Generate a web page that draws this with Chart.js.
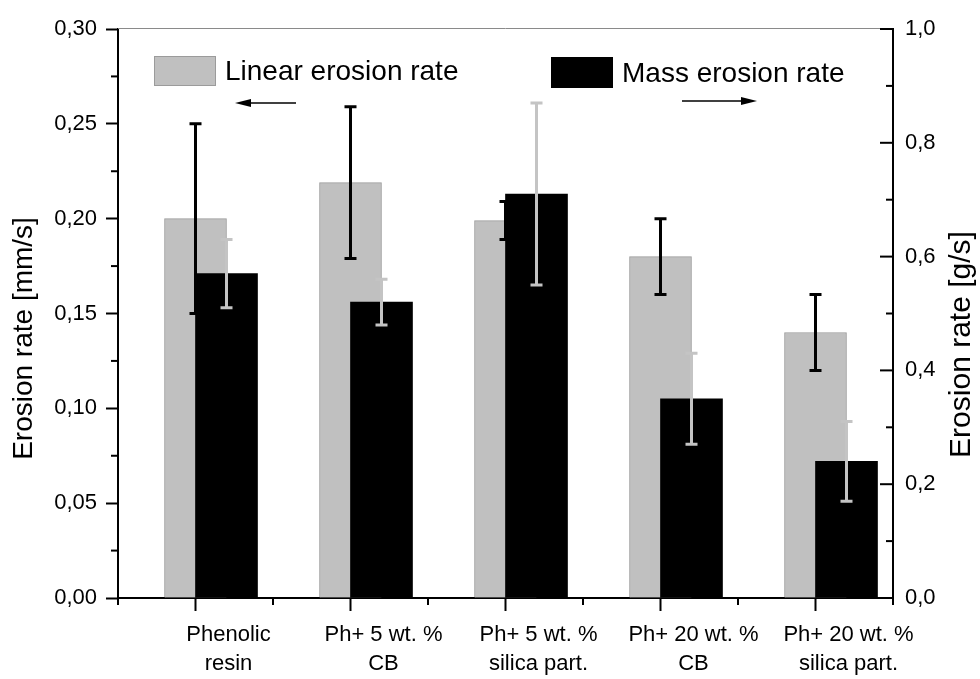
<!DOCTYPE html>
<html>
<head>
<meta charset="utf-8">
<script src="https://cdn.jsdelivr.net/npm/chart.js@4.4.1/dist/chart.umd.min.js"></script>
<style>
  html, body { margin: 0; padding: 0; background: #fff; }
  #wrap { width: 980px; height: 679px; }
</style>
</head>
<body>
<div id="wrap"><canvas id="myChart"></canvas></div>
<script>
const categories = [
    ['Phenolic', 'resin'],
    ['Ph+ 5 wt. %', 'CB'],
    ['Ph+ 5 wt. %', 'silica part.'],
    ['Ph+ 20 wt. %', 'CB'],
    ['Ph+ 20 wt. %', 'silica part.']
]
// linear erosion rate, mm/s (left axis)
const linearRate = [0.200, 0.219, 0.199, 0.180, 0.140]
const linearErr = [0.050, 0.040, 0.010, 0.020, 0.020]
// mass erosion rate, g/s (right axis)
const massRate = [0.57, 0.52, 0.71, 0.35, 0.24]
const massErr = [0.06, 0.04, 0.16, 0.08, 0.07]

const FONT = "'Liberation Sans', Arial, sans-serif"
const ctx = document.getElementById('myChart')

Chart.defaults.font.family = FONT
Chart.defaults.color = '#000'

function drawErrors(chart, dsIndex, values, errs, color) {
    const c = chart.ctx
    const meta = chart.getDatasetMeta(dsIndex)
    const yScale = chart.scales[meta.yAxisID]
    c.save()
    c.strokeStyle = color
    c.lineWidth = 3
    meta.data.forEach((bar, i) => {
        const top = yScale.getPixelForValue(values[i] + errs[i])
        const bot = yScale.getPixelForValue(values[i] - errs[i])
        c.beginPath()
        c.moveTo(bar.x, top)
        c.lineTo(bar.x, bot)
        c.moveTo(bar.x - 6, top)
        c.lineTo(bar.x + 6, top)
        c.moveTo(bar.x - 6, bot)
        c.lineTo(bar.x + 6, bot)
        c.stroke()
    })
    c.restore()
}

function line(c, x1, y1, x2, y2) {
    c.beginPath()
    c.moveTo(x1, y1)
    c.lineTo(x2, y2)
    c.stroke()
}

function arrow(c, x1, x2, y) {
    const dir = Math.sign(x2 - x1)
    c.lineWidth = 1.5
    line(c, x1, y, x2 - dir * 10, y)
    c.beginPath()
    c.moveTo(x2, y)
    c.lineTo(x2 - dir * 16, y - 4)
    c.lineTo(x2 - dir * 16, y + 4)
    c.closePath()
    c.fill()
}

const decorPlugin = {
    id: 'decor',
    afterDatasetsDraw(chart) {
        drawErrors(chart, 0, linearRate, linearErr, '#000')
        drawErrors(chart, 1, massRate, massErr, '#c4c4c4')
    },
    afterDraw(chart) {
        const c = chart.ctx
        const area = chart.chartArea
        const {x, y, y2} = chart.scales
        c.save()

        // thin frame line on top
        c.strokeStyle = '#8a8a8a'
        c.lineWidth = 1
        line(c, area.left, area.top - 0.5, area.right, area.top - 0.5)

        c.strokeStyle = '#000'
        c.lineWidth = 2
        // left minor ticks (outward)
        for (let k = 0; k < 6; k++) {
            const py = y.getPixelForValue(0.025 + k * 0.05)
            line(c, area.left, py, area.left - 7, py)
        }
        // right ticks (inward)
        for (let k = 0; k <= 10; k++) {
            const py = y2.getPixelForValue(k / 10)
            line(c, area.right, py, area.right - (k % 2 === 0 ? 13 : 7), py)
        }
        // x minor ticks between categories
        for (let k = 0; k <= categories.length; k++) {
            const px = x.getPixelForValue(k - 0.5)
            line(c, px, area.bottom, px, area.bottom + 7)
        }

        // axis titles
        c.fillStyle = '#000'
        c.textAlign = 'center'
        c.textBaseline = 'middle'
        const midY = (area.top + area.bottom) / 2
        c.save()
        c.font = '28px ' + FONT
        c.translate(24, midY + 25)
        c.rotate(-Math.PI / 2)
        c.fillText('Erosion rate [mm/s]', 0, 0)
        c.restore()
        c.save()
        c.font = '30px ' + FONT
        c.translate(area.right + 69, midY + 31)
        c.rotate(-Math.PI / 2)
        c.fillText('Erosion rate [g/s]', 0, 0)
        c.restore()

        // legend boxes
        const ds = chart.data.datasets
        c.font = '28px ' + FONT
        c.textAlign = 'left'
        c.fillStyle = ds[0].backgroundColor
        c.fillRect(area.left + 36, area.top + 27, 62, 30)
        c.strokeStyle = ds[0].borderColor
        c.lineWidth = 1
        c.strokeRect(area.left + 36.5, area.top + 27.5, 61, 29)
        c.fillStyle = '#000'
        c.fillText(ds[0].label, area.left + 107, area.top + 43)

        c.fillStyle = ds[1].backgroundColor
        c.fillRect(area.left + 433, area.top + 28, 62, 31)
        c.fillStyle = '#000'
        c.fillText(ds[1].label, area.left + 504, area.top + 45)

        // arrows pointing to the axes
        c.strokeStyle = '#000'
        arrow(c, area.left + 178, area.left + 117, area.top + 74)
        arrow(c, area.left + 564, area.left + 639, area.top + 72)
        c.restore()
    }
}

const chart = new Chart(ctx, {
    type: 'bar',
    data: {
        labels: categories,
        datasets: [{
            label: 'Linear erosion rate',
            data: linearRate,
            backgroundColor: '#c0c0c0',
            borderColor: '#9b9b9b',
            borderWidth: 1,
            barThickness: 62,
            grouped: false,
            order: 2,
            xAxisID: 'x',
            yAxisID: 'y'
        },
        {
            label: 'Mass erosion rate',
            data: massRate.map((v, i) => ({x: i, y: v})),
            backgroundColor: '#000000',
            borderWidth: 0,
            barThickness: 62,
            grouped: false,
            order: 1,
            xAxisID: 'x2',
            yAxisID: 'y2'
        }]
    },
    options: {
        responsive: true,
        maintainAspectRatio: false,
        animation: false,
        layout: {
            padding: {top: 29, left: 0, right: 0, bottom: 0}
        },
        plugins: {
            legend: {display: false},
            tooltip: {enabled: false}
        },
        scales: {
            x: {
                type: 'category',
                offset: true,
                grid: {
                    offset: false,
                    drawOnChartArea: false,
                    drawTicks: true,
                    tickLength: 13,
                    tickWidth: 2,
                    tickColor: '#000'
                },
                border: {display: true, color: '#000', width: 2},
                ticks: {
                    font: {size: 22, lineHeight: 1.3},
                    padding: 10,
                    labelOffset: 33,
                    maxRotation: 0,
                    autoSkip: false
                },
                afterFit: (scale) => { scale.height = 81 }
            },
            // hidden axis that places the mass bars half a bar to the right
            x2: {
                type: 'linear',
                display: false,
                offset: false,
                min: -0.7,
                max: 4.3
            },
            y: {
                position: 'left',
                min: 0,
                max: 0.30,
                grid: {
                    drawOnChartArea: false,
                    drawTicks: true,
                    tickLength: 12,
                    tickWidth: 2,
                    tickColor: '#000'
                },
                border: {display: true, color: '#000', width: 2},
                ticks: {
                    stepSize: 0.05,
                    font: {size: 22},
                    padding: 9,
                    callback: (v) => v.toFixed(2).replace('.', ',')
                },
                afterFit: (scale) => { scale.width = 118 }
            },
            y2: {
                position: 'right',
                min: 0,
                max: 1.0,
                grid: {
                    drawOnChartArea: false,
                    drawTicks: false
                },
                border: {display: true, color: '#000', width: 2},
                ticks: {
                    stepSize: 0.2,
                    font: {size: 22},
                    padding: 12,
                    callback: (v) => v.toFixed(1).replace('.', ',')
                },
                afterFit: (scale) => { scale.width = 87 }
            }
        }
    },
    plugins: [decorPlugin]
})
</script>
</body>
</html>
